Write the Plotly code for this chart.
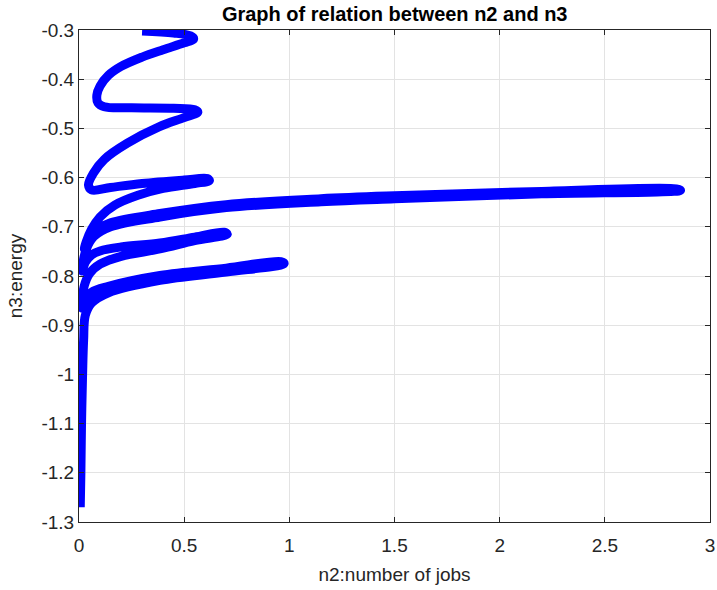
import plotly.graph_objects as go

# Trajectory of (n2, n3) traced as one continuous path
n2 = [0.30, 0.45, 0.53, 0.545, 0.50, 0.40, 0.30, 0.20, 0.14, 0.10, 0.085, 0.09, 0.12,
      0.25, 0.45, 0.55, 0.565, 0.50, 0.38, 0.23, 0.12, 0.07, 0.045, 0.06,
      0.15, 0.30, 0.50, 0.61, 0.62, 0.55, 0.40, 0.28, 0.17, 0.10, 0.06, 0.035, 0.025,
      0.05, 0.09, 0.15, 0.385, 0.70, 1.15, 1.50, 2.20, 2.84, 2.86,
      2.20, 1.50, 1.15, 0.70, 0.385, 0.15, 0.07, 0.035, 0.018, 0.015,
      0.03, 0.06, 0.10, 0.20, 0.385, 0.55, 0.69, 0.705,
      0.55, 0.385, 0.20, 0.10, 0.05, 0.025, 0.015, 0.013,
      0.025, 0.06, 0.14, 0.385, 0.70, 0.96, 0.975,
      0.70, 0.385, 0.14, 0.06, 0.03, 0.022, 0.017, 0.012, 0.009, 0.006]
n3 = [-0.302, -0.306, -0.312, -0.318, -0.326, -0.340, -0.355, -0.374, -0.392, -0.414, -0.432, -0.448, -0.456,
      -0.458, -0.459, -0.462, -0.467, -0.478, -0.497, -0.530, -0.563, -0.590, -0.615, -0.625,
      -0.620, -0.612, -0.605, -0.602, -0.606, -0.612, -0.622, -0.636, -0.656, -0.680, -0.705, -0.730, -0.745,
      -0.722, -0.705, -0.692, -0.673, -0.655, -0.643, -0.637, -0.628, -0.623, -0.626,
      -0.633, -0.643, -0.649, -0.661, -0.680, -0.700, -0.720, -0.745, -0.775, -0.790,
      -0.772, -0.757, -0.749, -0.741, -0.733, -0.721, -0.711, -0.715,
      -0.728, -0.745, -0.760, -0.776, -0.795, -0.820, -0.850, -0.865,
      -0.850, -0.833, -0.821, -0.799, -0.784, -0.771, -0.775,
      -0.792, -0.809, -0.834, -0.855, -0.880, -0.930, -1.000, -1.100, -1.200, -1.270]

x_ticks = [0, 0.5, 1, 1.5, 2, 2.5, 3]
x_labels = ["0", "0.5", "1", "1.5", "2", "2.5", "3"]
y_ticks = [-1.3, -1.2, -1.1, -1.0, -0.9, -0.8, -0.7, -0.6, -0.5, -0.4, -0.3]
y_labels = ["-1.3", "-1.2", "-1.1", "-1", "-0.9", "-0.8", "-0.7", "-0.6", "-0.5", "-0.4", "-0.3"]

FONT = "Liberation Sans, Arial, Helvetica, sans-serif"

fig = go.Figure()
fig.add_trace(go.Scatter(
    x=n2, y=n3, mode="lines",
    line=dict(color="#0000ff", width=9, shape="spline", smoothing=1.0),
    showlegend=False, hoverinfo="skip",
))

axis_common = dict(
    showline=True, linecolor="#262626", linewidth=1, mirror="ticks",
    ticks="inside", ticklen=5, tickcolor="#262626",
    showgrid=True, gridcolor="#e3e3e3", gridwidth=1, zeroline=False,
    automargin=False,
    tickfont=dict(family=FONT, size=19, color="#262626"),
    title_font=dict(family=FONT, size=19, color="#262626"),
)

fig.update_layout(
    width=717, height=590,
    margin=dict(l=79, r=7, t=30, b=68),
    paper_bgcolor="white", plot_bgcolor="white",
    title=dict(text="<b>Graph of relation between n2 and n3</b>",
               x=0.5505, xanchor="center", y=0.976, yanchor="middle",
               font=dict(family=FONT, size=20, color="#000000")),
    xaxis=dict(range=[0, 3], tickvals=x_ticks, ticktext=x_labels,
               ticklabelstandoff=6,
               title=dict(text="n2:number of jobs", standoff=12), **axis_common),
    yaxis=dict(range=[-1.3, -0.3], tickvals=y_ticks, ticktext=y_labels,
               title=dict(text="n3:energy", standoff=13), **axis_common),
)

fig.write_html("out.html")
